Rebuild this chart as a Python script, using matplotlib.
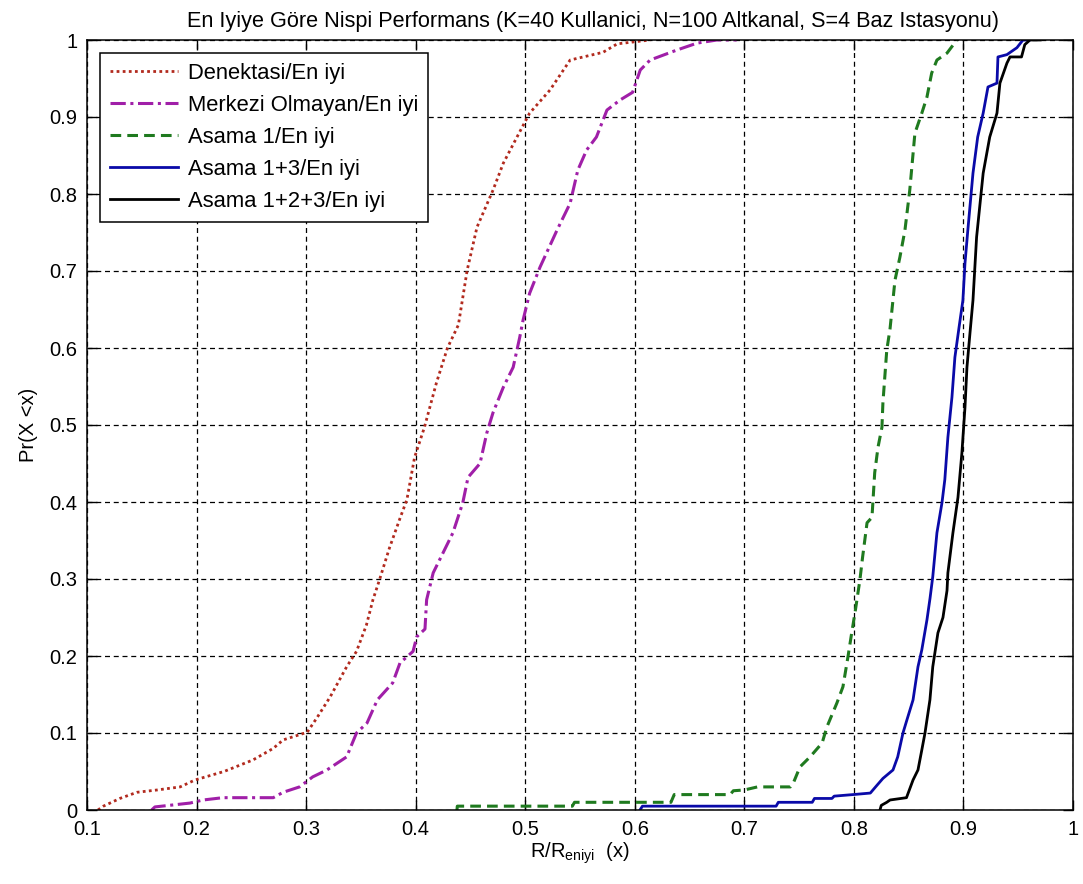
import matplotlib
matplotlib.use('Agg')
import matplotlib.pyplot as plt
import numpy as np

plt.rcParams['font.family'] = ['Liberation Sans', 'DejaVu Sans']
plt.rcParams['mathtext.fontset'] = 'custom'
plt.rcParams['mathtext.rm'] = 'Liberation Sans'
plt.rcParams['mathtext.it'] = 'Liberation Sans:italic'

# empirical CDF knots (x = R/R_eniyi, p = Pr(X<x))
x_denek = [0.11, 0.115, 0.13, 0.1456, 0.164, 0.185, 0.1986, 0.225, 0.2515, 0.27, 0.279,
           0.301, 0.31, 0.322, 0.337, 0.346, 0.355, 0.361, 0.367, 0.376, 0.386, 0.392,
           0.399, 0.408, 0.419, 0.429, 0.439, 0.447, 0.456, 0.4706, 0.48, 0.4925, 0.504,
           0.5226, 0.541, 0.571, 0.584, 0.614]
p_denek = [0.0, 0.005, 0.015, 0.023, 0.026, 0.03, 0.039, 0.05, 0.065, 0.08, 0.091,
           0.101, 0.12, 0.147, 0.186, 0.206, 0.24, 0.273, 0.299, 0.34, 0.38, 0.403,
           0.458, 0.497, 0.555, 0.6, 0.63, 0.701, 0.757, 0.805, 0.84, 0.874, 0.905,
           0.935, 0.974, 0.984, 0.995, 1.0]

x_merkez = [0.159, 0.162, 0.194, 0.206, 0.224, 0.27, 0.279, 0.294, 0.306, 0.319, 0.337,
            0.346, 0.3556, 0.365, 0.379, 0.3857, 0.3976, 0.401, 0.4085, 0.41, 0.416,
            0.425, 0.434, 0.443, 0.4478, 0.4587, 0.465, 0.4706, 0.48, 0.489, 0.495,
            0.498, 0.504, 0.5135, 0.529, 0.541, 0.548, 0.556, 0.565, 0.5746, 0.5865,
            0.598, 0.605, 0.614, 0.6385, 0.657, 0.675, 0.693]
p_merkez = [0.0, 0.004, 0.009, 0.013, 0.016, 0.016, 0.023, 0.03, 0.043, 0.052, 0.069,
            0.1, 0.113, 0.143, 0.165, 0.191, 0.206, 0.225, 0.235, 0.273, 0.308,
            0.334, 0.36, 0.399, 0.432, 0.45, 0.49, 0.516, 0.549, 0.575, 0.614,
            0.636, 0.671, 0.705, 0.753, 0.788, 0.831, 0.857, 0.874, 0.909, 0.922,
            0.932, 0.961, 0.974, 0.987, 0.996, 1.0, 1.0]

x_asama1 = [0.4377, 0.438, 0.543, 0.545, 0.633, 0.636, 0.687, 0.69, 0.70, 0.712, 0.742,
            0.745, 0.7508, 0.76, 0.771, 0.7754, 0.7845, 0.79, 0.7946, 0.798, 0.801,
            0.8055, 0.808, 0.812, 0.8165, 0.819, 0.822, 0.8256, 0.8265, 0.83, 0.833,
            0.8375, 0.842, 0.8466, 0.851, 0.8557, 0.862, 0.8667, 0.871, 0.8758, 0.885,
            0.894]
p_asama1 = [0.0, 0.005, 0.005, 0.01, 0.01, 0.02, 0.02, 0.025, 0.026, 0.03, 0.03,
            0.036, 0.056, 0.069, 0.087, 0.108, 0.139, 0.16, 0.199, 0.23, 0.256,
            0.299, 0.329, 0.373, 0.38, 0.438, 0.471, 0.497, 0.529, 0.597, 0.625,
            0.688, 0.718, 0.753, 0.805, 0.879, 0.905, 0.926, 0.957, 0.974, 0.983,
            1.0]

x_asama13 = [0.6047, 0.607, 0.729, 0.731, 0.762, 0.764, 0.78, 0.782, 0.799, 0.815, 0.821,
             0.8265, 0.8357, 0.84, 0.8448, 0.8484, 0.854, 0.8585, 0.862, 0.8667, 0.8695,
             0.872, 0.8758, 0.8804, 0.883, 0.8858, 0.8895, 0.8922, 0.896, 0.8995, 0.9014,
             0.904, 0.9087, 0.913, 0.918, 0.9224, 0.9306, 0.9315, 0.9397, 0.9488, 0.9543,
             0.96]
p_asama13 = [0.0, 0.005, 0.005, 0.01, 0.01, 0.015, 0.015, 0.018, 0.02, 0.022, 0.032,
             0.041, 0.052, 0.069, 0.1, 0.117, 0.143, 0.186, 0.208, 0.247, 0.275,
             0.303, 0.36, 0.399, 0.429, 0.484, 0.536, 0.588, 0.627, 0.662, 0.71,
             0.753, 0.827, 0.874, 0.905, 0.939, 0.944, 0.978, 0.981, 0.99, 1.0,
             1.0]

x_asama123 = [0.8238, 0.825, 0.83, 0.833, 0.848, 0.854, 0.8585, 0.862, 0.8649, 0.8694,
              0.872, 0.8767, 0.8813, 0.885, 0.8858, 0.8904, 0.895, 0.8986, 0.9014, 0.9032,
              0.906, 0.9087, 0.912, 0.918, 0.924, 0.9306, 0.9333, 0.9397, 0.9425, 0.953,
              0.956, 0.9607, 0.97]
p_asama123 = [0.0, 0.006, 0.01, 0.013, 0.016, 0.039, 0.052, 0.078, 0.1, 0.143,
              0.186, 0.23, 0.25, 0.285, 0.308, 0.36, 0.406, 0.464, 0.523, 0.575,
              0.62, 0.662, 0.744, 0.827, 0.874, 0.905, 0.944, 0.97, 0.978, 0.978,
              0.994, 1.0, 1.0]

fsize = 14.5

fig = plt.figure(figsize=(10.83, 8.84), dpi=100)
ax = fig.add_axes([87/1083, 74/884, 986/1083, 770/884])

ax.plot(x_denek, p_denek, color='#b22a1e', linestyle=(0, (1, 1.2)), lw=2.0,
        label='Denektasi/En iyi')
ax.plot(x_merkez, p_merkez, color='#a01fa8', linestyle=(0, (5, 1.5, 1, 1.5)), lw=2.2,
        label='Merkezi Olmayan/En iyi')
ax.plot(x_asama1, p_asama1, color='#1f7a1f', linestyle=(0, (3.5, 2)), lw=2.2,
        label='Asama 1/En iyi')
ax.plot(x_asama13, p_asama13, color='#0a0aa8', lw=2.0, label='Asama 1+3/En iyi')
ax.plot(x_asama123, p_asama123, color='black', lw=2.0, label='Asama 1+2+3/En iyi')

ax.set_xlim(0.1, 1.0)
ax.set_ylim(0, 1.0)
xt = np.round(np.arange(0.1, 1.01, 0.1), 1)
yt = np.round(np.arange(0.0, 1.01, 0.1), 1)
ax.set_xticks(xt)
ax.set_yticks(yt)
ax.set_xticklabels(['%g' % v for v in xt])
ax.set_yticklabels(['%g' % v for v in yt])
ax.tick_params(direction='in', length=7, width=1, top=True, right=True,
               labelsize=fsize, pad=7)
ax.grid(True, color='black', linestyle=(0, (4, 3)), lw=0.9)
for s in ax.spines.values():
    s.set_linewidth(1.1)

ax.set_title('En Iyiye Göre Nispi Performans (K=40 Kullanici, N=100 Altkanal, S=4 Baz Istasyonu)',
             fontsize=15.6, pad=9, x=0.513)
ax.set_xlabel(r'R/R$_{\mathrm{eniyi}}$  (x)', fontsize=fsize, labelpad=1)
ax.set_ylabel('Pr(X <x)', fontsize=fsize, labelpad=8)

leg = ax.legend(loc='upper left', fontsize=15.8, handlelength=3.1, handletextpad=0.45,
                labelspacing=0.5, borderaxespad=0.6, fancybox=False, framealpha=1,
                edgecolor='black', borderpad=0.45)
leg.get_frame().set_linewidth(1.1)

plt.savefig('out.png', dpi=100)
